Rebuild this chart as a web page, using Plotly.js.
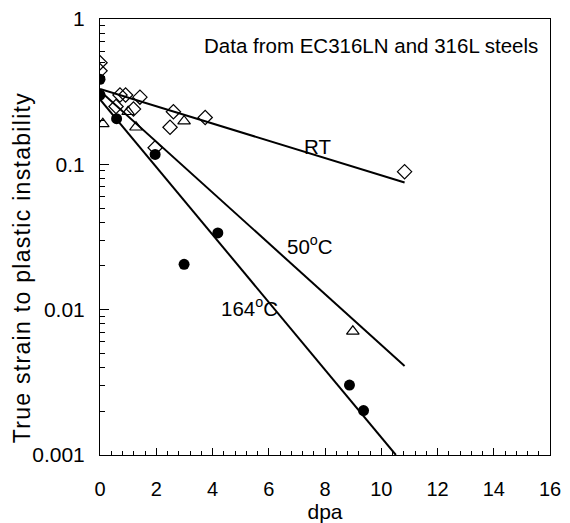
<!DOCTYPE html>
<html>
<head>
<meta charset="utf-8">
<script src="https://cdn.plot.ly/plotly-3.0.1.min.js"></script>
<style>
html,body{margin:0;padding:0;background:#fff;}
#chart{width:570px;height:523px;}
#chart .annotation[data-index="4"] .annotation-text{letter-spacing:1.3px;}
</style>
</head>
<body>
<div id="chart"></div>
<script>
// RT (open diamonds)
var rtDpa    = [0, 0, 0.71, 0.91, 1.42, 0.57, 1.19, 2.61, 2.49, 3.74, 1.96, 10.83];
var rtStrain = [0.50, 0.44, 0.30, 0.30, 0.29, 0.25, 0.24, 0.23, 0.18, 0.21, 0.13, 0.089];
// 50 C (open triangles)
var t50Dpa    = [0.1, 1.0, 1.28, 2.99, 8.99];
var t50Strain = [0.19, 0.23, 0.18, 0.198, 0.0071];
// 164 C (filled circles)
var t164Dpa    = [0, 0, 0.59, 1.96, 2.99, 4.19, 8.87, 9.37];
var t164Strain = [0.385, 0.30, 0.206, 0.117, 0.0205, 0.0337, 0.00303, 0.00202];
// fitted lines (end points)
var fitRtDpa = [0, 10.83], fitRtStrain = [0.33, 0.075];
var fit50Dpa = [0, 10.83], fit50Strain = [0.32, 0.0041];
var fit164Dpa = [0, 10.52], fit164Strain = [0.28, 0.001];

var xTicks = [0, 2, 4, 6, 8, 10, 12, 14, 16];
var yTicks = [0.001, 0.01, 0.1, 1];
var yTickText = ['0.001', '0.01', '0.1', '1'];

var F = 'Liberation Sans, Arial, sans-serif';
var lineStyle = {color: '#000', width: 2};

var traces = [
  {x: fitRtDpa, y: fitRtStrain, mode: 'lines', line: lineStyle, hoverinfo: 'skip'},
  {x: fit50Dpa, y: fit50Strain, mode: 'lines', line: lineStyle, hoverinfo: 'skip'},
  {x: fit164Dpa, y: fit164Strain, mode: 'lines', line: lineStyle, hoverinfo: 'skip'},
  {x: rtDpa, y: rtStrain, mode: 'markers', name: 'RT',
   marker: {symbol: 'diamond-open', size: 11, color: '#000', line: {width: 1.2, color: '#000'}}},
  {x: t50Dpa, y: t50Strain, mode: 'markers', name: '50°C',
   marker: {symbol: 'triangle-up-open', size: 11, color: '#000', line: {width: 1.2, color: '#000'}}},
  {x: t164Dpa, y: t164Strain, mode: 'markers', name: '164°C',
   marker: {symbol: 'circle', size: 11, color: '#000'}}
];

var layout = {
  width: 570, height: 523,
  margin: {l: 100, r: 20, t: 19, b: 68},
  paper_bgcolor: '#fff', plot_bgcolor: '#fff',
  showlegend: false,
  font: {family: F, size: 20, color: '#000'},
  xaxis: {
    range: [0, 16], tickvals: xTicks, ticks: 'inside', ticklen: 7, tickcolor: '#000',
    showline: true, mirror: true, linecolor: '#000', linewidth: 1,
    showgrid: false, zeroline: false, ticklabelstandoff: 16,
    tickfont: {size: 20},
    minor: {dtick: 0.4, ticks: 'inside', ticklen: 4, tickcolor: '#000', showgrid: false},
    title: {text: 'dpa', font: {size: 21}, standoff: 2}
  },
  yaxis: {
    type: 'log', range: [-3, 0], tickvals: yTicks, ticktext: yTickText,
    ticks: 'inside', ticklen: 9, tickcolor: '#000',
    showline: true, mirror: true, linecolor: '#000', linewidth: 1,
    showgrid: false, zeroline: false, ticklabelstandoff: 10,
    tickfont: {size: 21},
    minor: {dtick: 'D1', ticks: 'inside', ticklen: 5, tickcolor: '#000', showgrid: false}
  },
  annotations: [
    {xref: 'paper', yref: 'paper', x: 0.978, y: 0.94, xanchor: 'right', yanchor: 'middle',
     text: 'Data from EC316LN and 316L steels', showarrow: false, font: {size: 20.5}},
    {xref: 'x', yref: 'paper', x: 7.72, y: 0.738, text: 'RT', showarrow: false, font: {size: 20.5}},
    {xref: 'x', yref: 'paper', x: 7.47, y: 0.482, text: '50<sup>o</sup>C', showarrow: false, font: {size: 20.5}},
    {xref: 'x', yref: 'paper', x: 5.33, y: 0.305, text: '164<sup>o</sup>C', showarrow: false, font: {size: 20.5}},
    {xref: 'paper', yref: 'paper', x: -0.173, y: 0.431, xanchor: 'center', yanchor: 'middle',
     textangle: -90, text: 'True strain to plastic instability', showarrow: false, font: {size: 23}}
  ]
};

Plotly.newPlot('chart', traces, layout, {staticPlot: true, displayModeBar: false});
</script>
</body>
</html>
